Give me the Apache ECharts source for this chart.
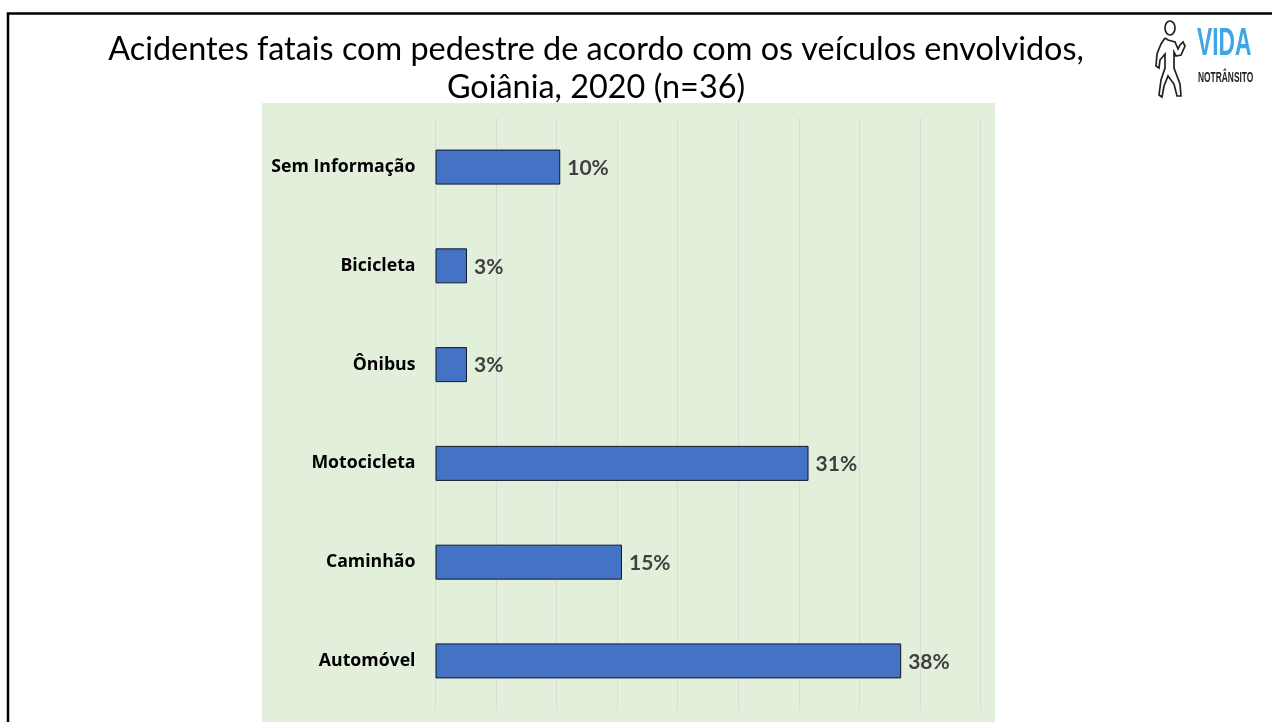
<!DOCTYPE html>
<html>
<head>
<meta charset="utf-8">
<style>html,body{margin:0;padding:0;background:#fff}#c{width:1272px;height:722px}</style>
<script src="https://cdn.jsdelivr.net/npm/echarts@6/dist/echarts.min.js"></script>
</head>
<body>
<div id="c"></div>
<script>
const categories = ['Automóvel','Caminhão','Motocicleta','Ônibus','Bicicleta','Sem Informação'];
const percentValues = [38.45, 15.4, 30.8, 2.6, 2.6, 10.3];
const titleText = 'Acidentes fatais com pedestre de acordo com os veículos envolvidos,\nGoiânia, 2020 (n=36)';
const FONT = 'Lato';

const chart = echarts.init(document.getElementById('c'), null, {renderer:'canvas'});
chart.setOption({
  animation:false,
  backgroundColor:'#fff',
  title:{
    text:titleText,
    left:591, top:26, textAlign:'center',
    textStyle:{fontFamily:FONT,fontSize:32.4,fontWeight:400,color:'#000',lineHeight:38}
  },
  graphic:[
    {type:'rect',z:-10,silent:true,shape:{x:262,y:103,width:733,height:619},style:{fill:'#E2EFDA'}},
    {type:'polyline',z:5,silent:true,shape:{points:[[8,722],[8,13.5],[1272,13.5]]},style:{stroke:'#000',lineWidth:2.5,fill:null}},
    {type:'ellipse',z:5,silent:true,shape:{cx:1170,cy:28,rx:5,ry:7},style:{fill:'none',stroke:'#222',lineWidth:1.7}},
    {type:'polyline',z:5,silent:true,shape:{points:[
      [1165,38],[1168,40],[1175,42],[1178,49],[1180,45],[1183,42],[1185,46],[1181,55],[1176,56],
      [1174,52],[1174,68],[1180,84],[1181,96],[1177,96],[1174,84],[1168,76],[1164,86],[1162,97],
      [1159,95],[1161,80],[1165,68],[1165,54],[1160,60],[1159,68],[1156,66],[1157,54],[1161,44],[1165,38]
    ]},style:{fill:'none',stroke:'#222',lineWidth:1.7}},
    {type:'text',z:5,silent:true,x:1197,y:25,scaleX:0.6,scaleY:1.02,style:{text:'VIDA',fill:'#3FA5E8',font:'700 38px "Liberation Sans Narrow","Liberation Sans"'}},
    {type:'text',z:5,silent:true,x:1198,y:71,scaleX:0.6,scaleY:1.05,style:{text:'NOTRÂNSITO',fill:'#222',font:'700 14px "Liberation Sans Narrow","Liberation Sans"'}}
  ],
  grid:{left:435.5,top:117.7,width:545,height:592.6,containLabel:false},
  xAxis:{
    type:'value',min:0,max:45,interval:5,
    axisLine:{show:false},axisTick:{show:false},axisLabel:{show:false},
    splitLine:{show:true,lineStyle:{color:'#D9DDD6',width:1}}
  },
  yAxis:{
    type:'category',data:categories,
    axisLine:{show:false},axisTick:{show:false},
    axisLabel:{margin:20,color:'#000',fontFamily:'"Open Sans"',fontWeight:700,fontSize:17.7,padding:[3,0,0,0]}
  },
  series:[{
    type:'bar',data:percentValues,barWidth:35,
    itemStyle:{color:'#4472C4',borderColor:'#10182A',borderWidth:1},
    label:{show:true,position:'right',distance:7,offset:[0,1],color:'#404040',fontFamily:FONT,fontWeight:700,fontSize:21,
      formatter:p=>Math.round(p.value)+'%'}
  }]
});
</script>
</body>
</html>
